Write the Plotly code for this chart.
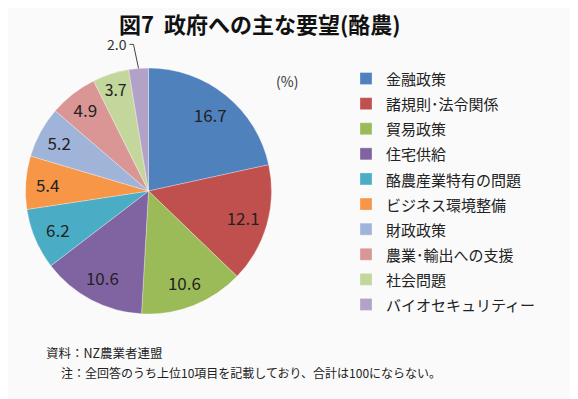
import math
import plotly.graph_objects as go

title = "図7  政府への主な要望(酪農)"
categories = ["金融政策", "諸規則･法令関係", "貿易政策", "住宅供給", "酪農産業特有の問題",
              "ビジネス環境整備", "財政政策", "農業･輸出への支援", "社会問題", "バイオセキュリティー"]
values = [16.7, 12.1, 10.6, 10.6, 6.2, 5.4, 5.2, 4.9, 3.7, 2.0]
colors = ["#4F81BD", "#C0504D", "#9BBB59", "#8064A2", "#4BACC6",
          "#F79646", "#A0B4DA", "#D99694", "#C3D69B", "#B3A2C7"]
unit_label = "(%)"
source_note = "資料：NZ農業者連盟"
footnote = "注：全回答のうち上位10項目を記載しており、合計は100にならない。"

FONT = "Noto Sans CJK JP"

# The page body has an 8px margin; the figure is sized to fit the window.
W, H = 570, 391
OFF = 8


def px(x):
    return (x - OFF) / W


def py(y):
    return 1 - (y - OFF) / H


# pie placement (page pixels)
pie_left, pie_right, pie_top, pie_bottom = 25.5, 271.5, 68, 314
dom = dict(x=[px(pie_left), px(pie_right)], y=[py(pie_bottom), py(pie_top)])

# labels: all inside except the smallest slice, which gets a leader line
labels_txt = [f"{v:.1f}" for v in values[:-1]] + [""]

fig = go.Figure()
fig.add_trace(go.Pie(
    labels=[f'<span style="font-size:15px">{c}</span>' for c in categories],
    values=values,
    sort=False,
    direction="clockwise",
    rotation=0,
    marker=dict(colors=colors, line=dict(color="rgba(255,255,255,0.5)", width=0.6)),
    textinfo="none",
    domain=dom,
    hoverinfo="label+value",
))
# transparent ring carrying the value labels (places them near the rim)
fig.add_trace(go.Pie(
    labels=categories,
    values=values,
    sort=False,
    direction="clockwise",
    rotation=0,
    hole=0.6,
    marker=dict(colors=["rgba(0,0,0,0)"] * len(values), line=dict(width=0)),
    text=labels_txt,
    textinfo="text",
    textposition="inside",
    insidetextorientation="horizontal",
    textfont=dict(family=FONT, size=17, color="#222222"),
    domain=dom,
    showlegend=False,
    hoverinfo="skip",
))

# leader line for the smallest slice, computed from the data
total = sum(values)
cum_before = sum(values[:-1])
theta = 2 * math.pi * (cum_before + values[-1] / 2) / total
cx = (pie_left + pie_right) / 2
cy = (pie_top + pie_bottom) / 2
r = (pie_right - pie_left) / 2
ex = cx + r * math.sin(theta)
ey = cy - r * math.cos(theta)
lx, ly = ex - 10, ey - 24  # label anchor (end of text)
path = (f"M {px(lx + 1)} {py(ly)} L {px(lx + 5)} {py(ly)} "
        f"L {px(ex)} {py(ey)}")

fig.update_layout(
    width=W, height=H,
    margin=dict(l=0, r=0, t=0, b=0),
    paper_bgcolor="#fafafa",
    plot_bgcolor="#fafafa",
    font=dict(family=FONT, color="#222222"),
    showlegend=True,
    legend=dict(
        x=px(346), xanchor="left", y=py(61), yanchor="top",
        font=dict(family=FONT, size=17, color="#222222"),
        bgcolor="rgba(0,0,0,0)",
        itemwidth=30,
        traceorder="normal",
    ),
    shapes=[dict(type="path", path=path, xref="paper", yref="paper",
                 line=dict(color="#444444", width=1))],
    annotations=[
        dict(text=f"<b>{title}</b>", x=px(260), y=py(23), xref="paper", yref="paper",
             xanchor="center", yanchor="middle", showarrow=False,
             font=dict(family=FONT, size=22, color="#111111")),
        dict(text=unit_label, x=px(274), y=py(81), xref="paper", yref="paper",
             xanchor="left", yanchor="middle", showarrow=False,
             font=dict(family=FONT, size=14, color="#333333")),
        dict(text=f"{values[-1]:.1f}", x=px(lx), y=py(ly), xref="paper", yref="paper",
             xanchor="right", yanchor="middle", showarrow=False,
             font=dict(family=FONT, size=14, color="#333333")),
        dict(text=source_note, x=px(44), y=py(352), xref="paper", yref="paper",
             xanchor="left", yanchor="middle", showarrow=False,
             font=dict(family=FONT, size=12.5, color="#222222")),
        dict(text=footnote, x=px(59), y=py(372), xref="paper", yref="paper",
             xanchor="left", yanchor="middle", showarrow=False,
             font=dict(family=FONT, size=12, color="#222222")),
    ],
)

fig.write_html("out.html")
